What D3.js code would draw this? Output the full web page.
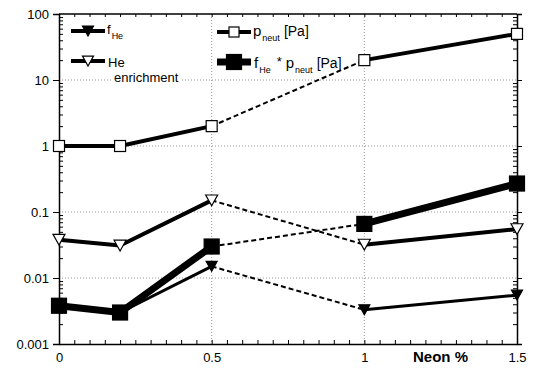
<!DOCTYPE html>
<html>
<head>
<meta charset="utf-8">
<script src="https://cdn.jsdelivr.net/npm/d3@7"></script>
<style>
  body { margin: 0; background: #fff; }
  svg { font-family: "Liberation Sans", Arial, sans-serif; }
</style>
</head>
<body>
<div id="chart"></div>
<script>
// data
const neon = [0, 0.2, 0.5, 1, 1.5];
const pNeut = [1, 1, 2, 20, 50];
const heEnrichment = [0.038, 0.031, 0.15, 0.032, 0.055];
const fHe = [0.0038, 0.003, 0.015, 0.0033, 0.0055];
const fHeTimesP = [0.0038, 0.003, 0.03, 0.066, 0.27];
const xTicks = [0, 0.5, 1, 1.5];
const yTicks = [0.001, 0.01, 0.1, 1, 10, 100];
const yTickLabels = ["0.001", "0.01", "0.1", "1", "10", "100"];

const width = 535, height = 368;
const margin = { top: 14, right: 18, bottom: 24, left: 59 };
const plotW = width - margin.left - margin.right;
const plotH = height - margin.top - margin.bottom;

const svg = d3.select("#chart").append("svg")
  .attr("width", width)
  .attr("height", height);

const x = d3.scaleLinear().domain([0, 1.5]).range([0, plotW]);
const y = d3.scaleLog().domain([0.001, 100]).range([plotH, 0]);

const g = svg.append("g")
  .attr("transform", `translate(${margin.left},${margin.top})`);

// dotted grid
g.selectAll(".hgrid").data(yTicks.slice(1, -1)).enter().append("line")
  .attr("x1", 0).attr("x2", plotW)
  .attr("y1", d => y(d)).attr("y2", d => y(d))
  .attr("stroke", "#999").attr("stroke-width", 1)
  .attr("stroke-dasharray", "1,2");
g.selectAll(".vgrid").data([0.5, 1]).enter().append("line")
  .attr("x1", d => x(d)).attr("x2", d => x(d))
  .attr("y1", 0).attr("y2", plotH)
  .attr("stroke", "#999").attr("stroke-width", 1)
  .attr("stroke-dasharray", "1,2");

// minor values
const minorY = [];
for (let e = -3; e < 2; e++) {
  for (let m = 2; m <= 9; m++) minorY.push(m * Math.pow(10, e));
}
const minorX = d3.range(0, 1.5001, 0.05);

// left axis
const leftAxis = g.append("g")
  .call(d3.axisLeft(y).tickValues(yTicks).tickFormat((d, i) => yTickLabels[i]).tickSize(6).tickPadding(4));
leftAxis.selectAll("text").attr("font-size", 13).attr("fill", "#000");
leftAxis.select(".domain").attr("stroke-width", 1.5);
g.append("g").call(d3.axisRight(y).tickValues(minorY).tickFormat("").tickSize(4))
  .select(".domain").remove();

// right axis
const rightAxis = g.append("g").attr("transform", `translate(${plotW},0)`);
rightAxis.call(d3.axisRight(y).tickValues(yTicks).tickFormat("").tickSize(5));
rightAxis.select(".domain").attr("stroke-width", 1.5);
g.append("g").attr("transform", `translate(${plotW},0)`)
  .call(d3.axisLeft(y).tickValues(minorY).tickFormat("").tickSize(4))
  .select(".domain").remove();

// bottom axis
const bottomAxis = g.append("g").attr("transform", `translate(0,${plotH})`)
  .call(d3.axisBottom(x).tickValues(xTicks).tickFormat(d => d === 0 ? "0" : String(d)).tickSize(0).tickPadding(9));
bottomAxis.selectAll("text").attr("font-size", 13).attr("fill", "#000");
bottomAxis.select(".domain").attr("stroke-width", 1.5);
g.append("g").attr("transform", `translate(0,${plotH})`)
  .call(d3.axisTop(x).tickValues(minorX).tickFormat("").tickSize(4))
  .select(".domain").remove();

// top border
g.append("line").attr("x1", 0).attr("x2", plotW).attr("y1", 0).attr("y2", 0)
  .attr("stroke", "#000").attr("stroke-width", 1.5);
g.append("g").call(d3.axisBottom(x).tickValues(minorX).tickFormat("").tickSize(3))
  .select(".domain").remove();

// axis title
svg.append("text")
  .attr("x", 468).attr("y", 362)
  .attr("text-anchor", "end")
  .attr("font-size", 15).attr("font-weight", "bold")
  .text("Neon %");

// series lines: solid except the 0.5 -> 1 segment which is dashed
function drawSeries(values, strokeW) {
  const pts = neon.map((n, i) => [n, values[i]]);
  const line = d3.line().x(d => x(d[0])).y(d => y(d[1]));
  g.append("path").datum(pts.slice(0, 3))
    .attr("d", line).attr("fill", "none")
    .attr("stroke", "#000").attr("stroke-width", strokeW).attr("stroke-linejoin", "round");
  g.append("path").datum(pts.slice(2, 4))
    .attr("d", line).attr("fill", "none")
    .attr("stroke", "#000").attr("stroke-width", 2).attr("stroke-dasharray", "5,3");
  g.append("path").datum(pts.slice(3, 5))
    .attr("d", line).attr("fill", "none")
    .attr("stroke", "#000").attr("stroke-width", strokeW).attr("stroke-linejoin", "round");
  return pts;
}

function square(sel, size, filled) {
  sel.append("rect")
    .attr("x", -size / 2).attr("y", -size / 2)
    .attr("width", size).attr("height", size)
    .attr("fill", filled ? "#000" : "#fff")
    .attr("stroke", "#000").attr("stroke-width", 1.2);
}
function triangle(sel, size, filled) {
  const h = size * 0.9;
  sel.append("path")
    .attr("d", `M${-size / 2},${-h / 2}L${size / 2},${-h / 2}L0,${h / 2}Z`)
    .attr("fill", filled ? "#000" : "#fff")
    .attr("stroke", "#000").attr("stroke-width", 1.2);
}

function drawMarkers(pts, shape, size, filled) {
  pts.forEach(p => {
    const m = g.append("g").attr("transform", `translate(${x(p[0])},${y(p[1])})`);
    shape(m, size, filled);
  });
}

const ptsP = drawSeries(pNeut, 4);
const ptsE = drawSeries(heEnrichment, 4);
const ptsF = drawSeries(fHe, 3);
const ptsFP = drawSeries(fHeTimesP, 7);
drawMarkers(ptsP, square, 11, false);
drawMarkers(ptsE, triangle, 12, false);
drawMarkers(ptsF, triangle, 11, true);
drawMarkers(ptsFP, square, 15, true);

// legend
const legend = svg.append("g");
function legendItem(lx, ly, shape, size, filled, strokeW) {
  legend.append("line")
    .attr("x1", lx).attr("x2", lx + 34).attr("y1", ly).attr("y2", ly)
    .attr("stroke", "#000").attr("stroke-width", strokeW);
  const m = legend.append("g").attr("transform", `translate(${lx + 17},${ly})`);
  shape(m, size, filled);
}
legendItem(71, 31, triangle, 11, true, 4);
legendItem(71, 61, triangle, 11, false, 4);
legendItem(217, 32, square, 10, false, 4);
legendItem(217, 62, square, 15, true, 7);

const legendText = (lx, ly) => legend.append("text")
  .attr("x", lx).attr("y", ly).attr("font-size", 13).attr("fill", "#000");

let t = legendText(107, 34);
t.append("tspan").text("f");
t.append("tspan").attr("font-size", 9).attr("dy", 5).attr("dx", 1).text("He");

legendText(108, 67).text("He");
legend.append("rect").attr("x", 113).attr("y", 71).attr("width", 68).attr("height", 14).attr("fill", "#fff");
legendText(114, 82).text("enrichment");

t = legendText(253, 36);
t.append("tspan").attr("font-size", 15).text("p");
t.append("tspan").attr("font-size", 9).attr("dy", 5).attr("dx", 1).text("neut");
t.append("tspan").attr("font-size", 14).attr("dy", -5).attr("dx", 4).text("[Pa]");

t = legendText(254, 68);
t.append("tspan").attr("font-size", 15).text("f");
t.append("tspan").attr("font-size", 9).attr("dy", 5).attr("dx", 1).text("He");
t.append("tspan").attr("font-size", 13).attr("dy", -7).attr("dx", 6).text("*");
t.append("tspan").attr("font-size", 15).attr("dy", 2).attr("dx", 4).text("p");
t.append("tspan").attr("font-size", 9).attr("dy", 5).attr("dx", 1).text("neut");
t.append("tspan").attr("font-size", 14).attr("dy", -5).attr("dx", 4).text("[Pa]");
</script>
</body>
</html>
